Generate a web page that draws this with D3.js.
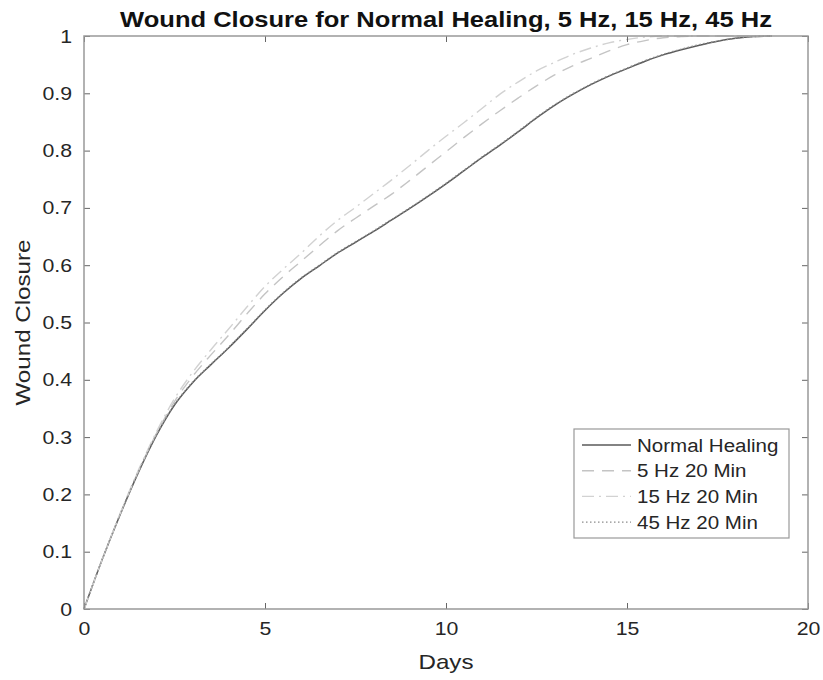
<!DOCTYPE html>
<html>
<head>
<meta charset="utf-8">
<script src="https://cdn.jsdelivr.net/npm/d3@7"></script>
<style>
  body { margin: 0; background: #fff; }
  text { font-family: "Liberation Sans", Arial, sans-serif; }
</style>
</head>
<body>
<svg id="chart"></svg>
<script>
var W = 823, H = 680;
var margin = {left: 84, right: 15, top: 36, bottom: 71};

var days = [0,0.5,1,1.5,2,2.5,3,3.5,4,4.5,5,5.5,6,6.5,7,7.5,8,8.5,9,9.5,10,
            10.5,11,11.5,12,12.5,13,13.5,14,14.5,15,15.5,16,16.5,17,17.5,18,18.5,19];

var normal = [0,0.086,0.165,0.238,0.303,0.356,0.395,0.426,0.456,0.488,0.521,0.551,0.577,0.599,0.621,0.640,0.659,0.679,0.699,0.720,0.742,
              0.765,0.788,0.810,0.833,0.857,0.879,0.898,0.915,0.930,0.943,0.956,0.967,0.976,0.984,0.991,0.996,0.999,1.000];
var hz5 = [0,0.086,0.166,0.240,0.306,0.362,0.406,0.443,0.478,0.515,0.550,0.580,0.607,0.634,0.660,0.682,0.703,0.724,0.748,0.773,0.798,
           0.823,0.847,0.870,0.892,0.913,0.932,0.948,0.961,0.974,0.985,0.992,0.997,0.999,1.000,1.000,1.000,1.000,1.000];
var hz15 = [0,0.086,0.167,0.242,0.309,0.367,0.413,0.452,0.489,0.527,0.563,0.593,0.621,0.651,0.678,0.701,0.725,0.749,0.774,0.800,0.825,
            0.849,0.874,0.899,0.920,0.939,0.954,0.968,0.979,0.988,0.994,0.998,1.000,1.000,1.000,1.000,1.000,1.000,1.000];
var hz45 = [0,0.086,0.165,0.239,0.304,0.357,0.396,0.427,0.457,0.489,0.522,0.552,0.578,0.600,0.622,0.641,0.660,0.680,0.700,0.721,0.743,
            0.766,0.789,0.811,0.834,0.858,0.880,0.899,0.916,0.931,0.944,0.957,0.968,0.977,0.985,0.991,0.996,0.999,1.000];

var labels = ["Normal Healing","5 Hz 20 Min","15 Hz 20 Min","45 Hz 20 Min"];
var xTicks = [0,5,10,15,20];
var yTicks = [0,0.1,0.2,0.3,0.4,0.5,0.6,0.7,0.8,0.9,1];

var styles = [
  {color:"#5a5a5a", dash:null, width:1.5},
  {color:"#c4c4c4", dash:"12,8", width:1.4},
  {color:"#d2d2d2", dash:"12,5,2,5", width:1.4},
  {color:"#8c8c8c", dash:"1.5,2.5", width:1.4}
];

var series = [normal,hz5,hz15,hz45].map(function(v,i){
  return {name:labels[i], style:styles[i], pts:days.map(function(d,j){ return [d,v[j]]; })};
});

var svg = d3.select("#chart").attr("width",W).attr("height",H);
var pw = W-margin.left-margin.right, ph = H-margin.top-margin.bottom;

var x = d3.scaleLinear().domain([0,20]).range([margin.left, margin.left+pw]);
var y = d3.scaleLinear().domain([0,1]).range([margin.top+ph, margin.top]);

// the source figure is a bit wider than tall, stretch text to match
function stretch(sel,k){
  sel.each(function(){
    var w = this.getComputedTextLength();
    d3.select(this).attr("textLength",w*k).attr("lengthAdjust","spacingAndGlyphs");
  });
}

// curves
var line = d3.line().x(function(d){ return x(d[0]); }).y(function(d){ return y(d[1]); })
  .curve(d3.curveMonotoneX);

svg.selectAll("path.series")
  .data(series)
  .enter()
  .append("path")
  .attr("class","series")
  .attr("fill","none")
  .attr("stroke",function(d){ return d.style.color; })
  .attr("stroke-width",function(d){ return d.style.width; })
  .attr("stroke-dasharray",function(d){ return d.style.dash; })
  .attr("d",function(d){ return line(d.pts); });

// axes, ticks inside like matlab
var ax = svg.append("g").attr("class","axes");
function styleAxis(g){
  g.select(".domain").remove();
  g.selectAll(".tick line").attr("stroke","#666");
  g.selectAll(".tick text").attr("fill","#262626").style("font-size","19px");
}
ax.append("g").attr("transform","translate(0,"+(margin.top+ph)+")")
  .call(d3.axisBottom(x).tickValues(xTicks).tickSize(-6).tickPadding(13).tickFormat(d3.format("d")))
  .call(styleAxis);
ax.append("g").attr("transform","translate(0,"+margin.top+")")
  .call(d3.axisTop(x).tickValues(xTicks).tickSize(-6).tickFormat(""))
  .call(styleAxis);
ax.append("g").attr("transform","translate("+margin.left+",0)")
  .call(d3.axisLeft(y).tickValues(yTicks).tickSize(-6).tickPadding(12).tickFormat(function(d){ return d3.format("")(+d.toFixed(1)); }))
  .call(styleAxis);
ax.append("g").attr("transform","translate("+(margin.left+pw)+",0)")
  .call(d3.axisRight(y).tickValues(yTicks).tickSize(-6).tickFormat(""))
  .call(styleAxis);
stretch(ax.selectAll(".tick text"),1.12);

svg.append("rect")
  .attr("x",margin.left).attr("y",margin.top).attr("width",pw).attr("height",ph)
  .attr("fill","none").attr("stroke","#999").attr("stroke-width",1.5);

// titles
svg.append("text").attr("x",446).attr("y",27)
  .attr("text-anchor","middle").style("font-size","22px").style("font-weight","bold")
  .attr("fill","#111").text("Wound Closure for Normal Healing, 5 Hz, 15 Hz, 45 Hz")
  .call(stretch,1.16);
svg.append("text").attr("x",x(10)).attr("y",669)
  .attr("text-anchor","middle").style("font-size","21px").attr("fill","#262626").text("Days")
  .call(stretch,1.15);
svg.append("text").attr("transform","translate(30,"+y(0.5)+") rotate(-90)")
  .attr("text-anchor","middle").style("font-size","21px").attr("fill","#262626").text("Wound Closure")
  .call(stretch,1.15);

// legend
var lg = svg.append("g").attr("transform","translate(574,429)");
lg.append("rect").attr("width",215).attr("height",109)
  .attr("fill","#fff").attr("stroke","#999").attr("stroke-width",1.2);
var rows = lg.selectAll("g.row").data(series).enter().append("g")
  .attr("class","row")
  .attr("transform",function(d,i){ return "translate(0,"+(16+i*25.7)+")"; });
rows.append("line").attr("x1",8).attr("x2",57).attr("y1",0).attr("y2",0)
  .attr("stroke",function(d){ return d.style.color; })
  .attr("stroke-width",function(d){ return d.style.width; })
  .attr("stroke-dasharray",function(d){ return d.style.dash; });
rows.append("text").attr("x",63).attr("y",6.5).style("font-size","18px")
  .attr("fill","#262626").text(function(d){ return d.name; })
  .call(stretch,1.14);
</script>
</body>
</html>
